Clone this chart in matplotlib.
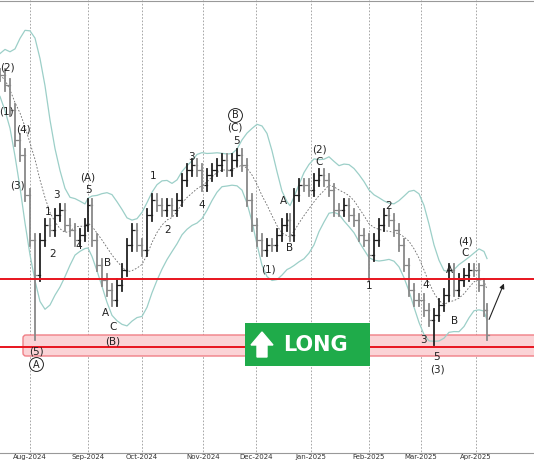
import matplotlib
matplotlib.use("Agg")
import matplotlib.pyplot as plt
import numpy as np
import pandas as pd
from matplotlib.patches import FancyBboxPatch, Rectangle

bar_x = [0,5,10,15,20,25,30,35,40,45,50,55,60,65,70,75,80,85,88,92,97,102,107,112,117,122,127,132,137,142,
         147,152,157,162,167,172,177,182,187,192,197,202,207,212,217,222,227,232,237,242,247,252,257,262,267,272,
         277,282,287,290,294,299,304,309,314,319,324,329,334,339,344,349,354,359,364,369,374,379,384,389,394,399,
         404,409,414,419,424,429,434,439,444,449,454,459,464,469,474,479,484,487]
closes = [75,85,110,140,155,195,240,275,240,225,230,215,210,225,230,240,235,225,205,240,265,280,290,300,285,270,245,230,245,250,
          215,200,205,210,205,210,200,180,170,165,170,185,175,170,165,160,170,160,155,165,200,225,240,250,245,245,
          235,225,220,235,195,185,185,190,180,175,180,190,210,210,205,215,220,235,240,255,240,225,215,220,230,245,
          265,290,300,300,310,320,315,305,295,270,290,280,275,270,270,285,310,335]
low_override = {35: 340, 269: 262, 369: 280, 434: 345, 487: 340}

month_labels = ["Aug-2024","Sep-2024","Oct-2024","Nov-2024","Dec-2024","Jan-2025","Feb-2025","Mar-2025","Apr-2025"]
month_x = [30,88,142,203,256,311,369,421,476]

wave_labels = [("(2)",7,68),("(1)",6,112),("(4)",23,130),("(3)",17,186),("(5)",36,351),
    ("1",48,212),("3",56,195),("2",53,254),("4",79,246),("(A)",88,178),("5",88,190),("B",108,263),
    ("A",105,313),("C",113,327),("(B)",113,341),("1",153,176),("2",168,230),("3",191,157),("4",202,205),
    ("(C)",235,128),("5",236,141),("(1)",268,270),("A",283,201),("B",290,248),
    ("(2)",319,150),("C",319,162),("2",389,206),("1",369,286),("4",426,285),("3",423,340),("5",436,357),
    ("(3)",437,370),("A",449,270),("B",455,321),("(4)",465,242),("C",465,253)]
circled_labels = [("A",36,364),("B",235,115)]

fig = plt.figure(figsize=(5.34,4.62), dpi=100)
ax = fig.add_axes([0,0,1,1])
ax.set_xlim(0,534); ax.set_ylim(462,0); ax.axis("off")

for mx in month_x:
    ax.plot([mx,mx],[0,452], color="#999999", lw=0.6, ls=(0,(2,2)), zorder=1)
ax.plot([0,534],[1,1], color="#999999", lw=0.8)
ax.plot([0,534],[453,453], color="#999999", lw=0.8)
for lab,mx in zip(month_labels, month_x):
    ax.text(mx, 457, lab, fontsize=5, ha="center", va="center", color="#333333")

s = pd.Series(closes, dtype=float)
mid = s.rolling(8, min_periods=1).mean()
sd = s.rolling(8, min_periods=2).std().bfill().rolling(5, min_periods=1, center=True).mean()
ax.plot(bar_x, mid, color="#666666", lw=0.6, ls=(0,(2,2)), zorder=2)
ax.plot(bar_x, mid - 2*sd, color="#9ccfc8", lw=0.9, zorder=2)
ax.plot(bar_x, mid + 2*sd, color="#9ccfc8", lw=0.9, zorder=2)

ax.add_patch(FancyBboxPatch((23,335),520,21, boxstyle="round,pad=0,rounding_size=3",
             fc="#fbd3d6", ec="#f07f86", lw=1, zorder=1))
ax.plot([0,534],[279,279], color="#e8141e", lw=1.4, zorder=4)
ax.plot([0,534],[347,347], color="#e8141e", lw=1.4, zorder=4)

prev = closes[0]
for x,c in zip(bar_x, closes):
    o = prev
    hi = min(o,c) - 6
    lo = max(o,c) + 6
    lo = low_override.get(x, lo)
    col = "#222222" if c < o else "#888888"
    ax.plot([x,x],[hi,lo], color=col, lw=1.3, zorder=3)
    ax.plot([x-1.8,x],[o,o], color=col, lw=0.9, zorder=3)
    ax.plot([x,x+1.8],[c,c], color=col, lw=0.9, zorder=3)
    prev = c

for t,x,y in wave_labels:
    ax.text(x,y,t, fontsize=7.5, ha="center", va="center", color="#222222", zorder=5)
for t,x,y in circled_labels:
    ax.plot(x,y,"o", ms=10, mfc="white", mec="#222222", mew=0.7, zorder=5)
    ax.text(x,y+0.5,t, fontsize=7, ha="center", va="center", color="#222222", zorder=6)

ax.add_patch(Rectangle((245,323),125,43, fc="#1fab4a", ec="none", zorder=6))
ax.fill([257,267,267,273,262,251,257],[357,357,345,345,332,345,345], color="white", zorder=7)
ax.text(283,345,"LONG", fontsize=15, fontweight="bold", color="white", va="center", ha="left", zorder=7)

ax.annotate("", xy=(505,281), xytext=(488,322),
            arrowprops=dict(arrowstyle="-|>", color="#222222", lw=0.8, mutation_scale=7), zorder=6)

fig.savefig("out.png", dpi=100)
